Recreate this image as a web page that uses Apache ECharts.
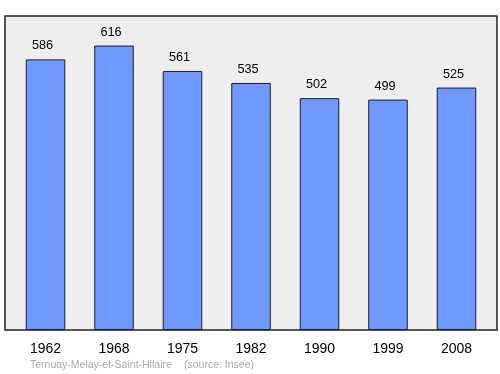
<!DOCTYPE html>
<html><head><meta charset="utf-8">
<script src="https://cdn.jsdelivr.net/npm/echarts@6/dist/echarts.min.js"></script>
<style>html,body{margin:0;padding:0;background:#fff}#c{width:500px;height:374px}</style>
</head><body><div id="c"></div>
<script>
const years = ['1962','1968','1975','1982','1990','1999','2008'];
const population = [586,616,561,535,502,499,525];
const footerName = 'Ternuay-Melay-et-Saint-Hilaire';
const footerSource = '(source: Insee)';

const chart = echarts.init(document.getElementById('c'), null, {renderer:'canvas'});
chart.setOption({
  animation:false,
  backgroundColor:'#ffffff',
  grid:{left:11.25,right:9.25,top:16,bottom:44,show:false},
  xAxis:{type:'category',data:years,
    axisLine:{show:false},axisTick:{show:false},
    axisLabel:{fontFamily:'Liberation Sans',fontSize:14,color:'#000',margin:12}},
  yAxis:{type:'value',min:0,max:680,show:false,splitLine:{show:false}},
  series:[{type:'bar',data:population,barWidth:'57.7%',z:5,
    itemStyle:{color:'#6f99ff',borderColor:'#1a1a3a',borderWidth:1},
    label:{show:true,position:'top',distance:7,offset:[-3,0],fontFamily:'Liberation Sans',fontSize:12.7,color:'#000'}}],
  graphic:[
    {type:'rect',z:-10,shape:{x:5,y:16,width:492,height:314},style:{fill:'#eeeeee',stroke:'#222222',lineWidth:1.5}},
    {type:'text',left:30,top:359.5,style:{text:footerName,fontFamily:'Liberation Sans',fontSize:10.5,fill:'#aaaaaa'}},
    {type:'text',left:184,top:359.5,style:{text:footerSource,fontFamily:'Liberation Sans',fontSize:10.5,fill:'#aaaaaa'}}]
});
</script></body></html>
